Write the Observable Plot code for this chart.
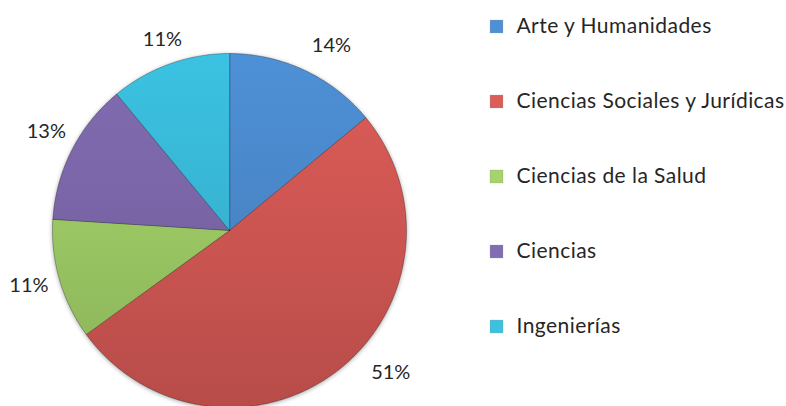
<!DOCTYPE html>
<html><head><meta charset="utf-8">
<script src="https://cdn.jsdelivr.net/npm/d3@7"></script>
<script src="https://cdn.jsdelivr.net/npm/@observablehq/plot@0.6"></script>
<style>
body{margin:0;background:#fff}
#chart svg{display:block;background:#fff}
</style>
</head><body><div id="chart"></div>
<script>
// ---- data ----
const categories = ["Arte y Humanidades", "Ciencias Sociales y Jurídicas", "Ciencias de la Salud", "Ciencias", "Ingenierías"];
const percentages = [14, 51, 11, 13, 11];
const baseColors = ["#4885c6", "#cc5551", "#99c562", "#7864a5", "#37b3d1"];

// ---- layout (not data) ----
const W = 786, H = 406;
const cx = 229, cy = 230, r = 177;
const labelRadius = 208;
const labelNudgeDeg = [3.7, -10.8, 0.8, 1.3, 0.4];
const labelRadiusAdj = [3, 7, 0, 0, -6];
const legendX = 496, legendTextX = 516, legendY0 = 26, legendStep = 75;

const arcs = d3.pie().sort(null).value(d => d)(percentages);

// slice polygons (center + arc boundary), in pixel-like data units
const slicePts = [];
arcs.forEach((a, i) => {
  const name = categories[i];
  slicePts.push({name, x: cx, y: cy});
  const n = Math.max(2, Math.ceil((a.endAngle - a.startAngle) / (Math.PI / 360)));
  for (let k = 0; k <= n; k++) {
    const t = a.startAngle + (a.endAngle - a.startAngle) * k / n;
    slicePts.push({name, x: cx + r * Math.sin(t), y: cy - r * Math.cos(t)});
  }
});

const labels = arcs.map((a, i) => {
  const m = (a.startAngle + a.endAngle) / 2 + labelNudgeDeg[i] * Math.PI / 180;
  const R = labelRadius + labelRadiusAdj[i];
  return {text: percentages[i] + "%", x: cx + R * Math.sin(m), y: cy - R * Math.cos(m)};
});

const legend = categories.map((name, i) => ({name, y: legendY0 + legendStep * i}));

const gradIds = categories.map((_, i) => `url(#slice-grad-${i})`);

const chart = Plot.plot({
  width: W, height: H,
  marginTop: 0, marginRight: 0, marginBottom: 0, marginLeft: 0,
  x: {domain: [0, W], range: [0, W], axis: null},
  y: {domain: [0, H], range: [0, H], axis: null},
  color: {type: "ordinal", domain: categories, range: gradIds},
  style: {fontFamily: "Lato, 'DejaVu Sans', sans-serif", background: "#fff"},
  marks: [
    Plot.line(slicePts, {x: "x", y: "y", z: "name", fill: "name", stroke: "rgba(0,0,0,0.28)", strokeWidth: 1, curve: "linear-closed", className: "pie-slices"}),
    Plot.text(labels, {x: "x", y: "y", text: "text", fontSize: 20, fill: "#262626"}),
    Plot.dot(legend, {x: () => legendX, y: "y", fill: "name", symbol: "square", r: 7.2, stroke: "rgba(0,0,0,0.22)", strokeWidth: 0.6}),
    Plot.text(legend, {x: () => legendTextX, y: "y", text: "name", textAnchor: "start", fontSize: 21, fill: "#262626", className: "legend-text"})
  ]
});

// gradient definitions
const ns = "http://www.w3.org/2000/svg";
const defs = document.createElementNS(ns, "defs");
baseColors.forEach((c, i) => {
  const g = document.createElementNS(ns, "linearGradient");
  g.setAttribute("id", `slice-grad-${i}`);
  g.setAttribute("gradientUnits", "userSpaceOnUse");
  g.setAttribute("x1", 0); g.setAttribute("y1", cy - r);
  g.setAttribute("x2", 0); g.setAttribute("y2", cy + r);
  const base = d3.color(c);
  [[0, base.brighter(0.22)], [0.5, base], [1, base.darker(0.3)]].forEach(([o, col]) => {
    const s = document.createElementNS(ns, "stop");
    s.setAttribute("offset", o);
    s.setAttribute("stop-color", col.formatHex());
    g.appendChild(s);
  });
  defs.appendChild(g);
});
chart.insertBefore(defs, chart.firstChild);
const slices = chart.querySelector(".pie-slices") || chart.querySelector('g[aria-label="line"]');
if (slices) slices.style.filter = "drop-shadow(0px 1px 2px rgba(0,0,0,0.35))";
const lt = chart.querySelector(".legend-text");
if (lt) lt.style.letterSpacing = "0.45px";
document.getElementById("chart").appendChild(chart);
</script>
</body></html>
